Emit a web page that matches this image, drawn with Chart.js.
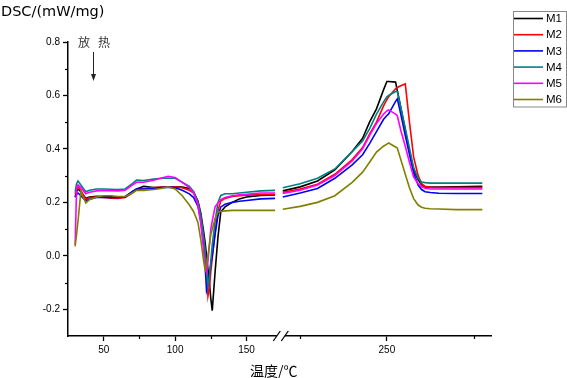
<!DOCTYPE html>
<html>
<head>
<meta charset="utf-8">
<script src="https://cdn.jsdelivr.net/npm/chart.js@4/dist/chart.umd.min.js"></script>
<style>
  body { margin: 0; background: #fff; }
  canvas { display: block; }
</style>
</head>
<body>
<canvas id="dscChart" width="567" height="378"></canvas>
<script>
// temperatures (°C) of the two parts of the broken axis
var seg1T = [30, 31, 32, 34, 37.5, 40, 45, 50, 55, 60, 65, 70, 73, 78, 85, 90, 95, 100, 105, 110, 113, 116, 118, 120, 121, 122, 123, 124, 125, 126, 128, 130, 132, 135, 140, 145, 150, 160, 170];
var seg2T = [190, 200, 210, 220, 230, 236, 240, 244, 248, 250, 251, 255, 256, 258, 260.6, 263, 265.4, 268, 270, 272, 275, 280, 290, 305];

var seriesNames = ["M1", "M2", "M3", "M4", "M5", "M6"];
var seriesColors = ["#000000", "#ff0000", "#0000ff", "#008080", "#ff00ff", "#808000"];

// DSC (mW/mg), first part
var m1Low = [0.22, 0.24, 0.25, 0.24, 0.215, 0.22, 0.223, 0.222, 0.221, 0.22, 0.222, 0.24, 0.25, 0.26, 0.255, 0.255, 0.258, 0.258, 0.257, 0.252, 0.238, 0.205, 0.16, 0.09, 0.05, 0.0, -0.05, -0.1, -0.16, -0.205, -0.06, 0.07, 0.165, 0.183, 0.2, 0.213, 0.22, 0.226, 0.228];
var m2Low = [0.23, 0.25, 0.26, 0.245, 0.21, 0.218, 0.22, 0.218, 0.216, 0.215, 0.218, 0.235, 0.248, 0.252, 0.255, 0.257, 0.258, 0.258, 0.255, 0.245, 0.235, 0.2, 0.14, 0.06, 0.01, -0.05, -0.15, -0.12, -0.06, -0.01, 0.09, 0.17, 0.205, 0.215, 0.222, 0.225, 0.227, 0.229, 0.23];
var m3Low = [0.22, 0.23, 0.235, 0.225, 0.205, 0.212, 0.218, 0.218, 0.218, 0.218, 0.22, 0.24, 0.25, 0.25, 0.252, 0.255, 0.257, 0.255, 0.245, 0.232, 0.218, 0.185, 0.13, 0.04, -0.03, -0.13, -0.11, -0.07, -0.03, 0.0, 0.08, 0.15, 0.183, 0.193, 0.2, 0.204, 0.207, 0.213, 0.215];
var m4Low = [0.24, 0.27, 0.28, 0.265, 0.24, 0.245, 0.25, 0.25, 0.249, 0.248, 0.25, 0.27, 0.283, 0.282, 0.287, 0.29, 0.29, 0.29, 0.275, 0.26, 0.24, 0.2, 0.15, 0.07, 0.02, -0.05, -0.115, -0.08, -0.02, 0.04, 0.13, 0.2, 0.226, 0.232, 0.232, 0.235, 0.238, 0.243, 0.245];
var m5Low = [0.04, 0.25, 0.265, 0.255, 0.232, 0.238, 0.243, 0.245, 0.244, 0.243, 0.245, 0.265, 0.275, 0.275, 0.283, 0.29, 0.297, 0.293, 0.275, 0.255, 0.235, 0.19, 0.12, 0.02, -0.04, -0.06, -0.02, 0.04, 0.1, 0.13, 0.183, 0.198, 0.21, 0.218, 0.225, 0.228, 0.23, 0.235, 0.235];
var m6Low = [0.035, 0.08, 0.13, 0.24, 0.198, 0.21, 0.22, 0.225, 0.225, 0.222, 0.222, 0.235, 0.245, 0.245, 0.248, 0.252, 0.258, 0.25, 0.225, 0.19, 0.165, 0.125, 0.06, -0.02, -0.053, -0.03, 0.0, 0.04, 0.08, 0.1, 0.14, 0.164, 0.166, 0.168, 0.17, 0.17, 0.17, 0.17, 0.17];

// DSC (mW/mg), second part
var m1High = [0.243, 0.258, 0.28, 0.322, 0.39, 0.44, 0.5, 0.55, 0.62, 0.652, 0.652, 0.65, 0.618, 0.555, 0.47, 0.39, 0.32, 0.285, 0.265, 0.258, 0.257, 0.257, 0.258, 0.26];
var m2High = [0.238, 0.25, 0.268, 0.305, 0.36, 0.405, 0.455, 0.5, 0.56, 0.585, 0.595, 0.625, 0.63, 0.636, 0.643, 0.5, 0.37, 0.3, 0.27, 0.26, 0.256, 0.255, 0.255, 0.255];
var m3High = [0.22, 0.235, 0.252, 0.29, 0.34, 0.378, 0.42, 0.465, 0.51, 0.525, 0.531, 0.578, 0.587, 0.53, 0.45, 0.38, 0.31, 0.265, 0.248, 0.24, 0.237, 0.234, 0.233, 0.233];
var m4High = [0.255, 0.27, 0.29, 0.325, 0.39, 0.43, 0.475, 0.53, 0.575, 0.595, 0.6, 0.615, 0.615, 0.556, 0.478, 0.403, 0.33, 0.29, 0.276, 0.274, 0.272, 0.272, 0.272, 0.272];
var m5High = [0.233, 0.245, 0.265, 0.3, 0.355, 0.4, 0.45, 0.495, 0.53, 0.542, 0.546, 0.53, 0.524, 0.47, 0.41, 0.35, 0.295, 0.27, 0.258, 0.253, 0.25, 0.25, 0.25, 0.25];
var m6High = [0.174, 0.185, 0.2, 0.225, 0.275, 0.313, 0.35, 0.388, 0.41, 0.418, 0.422, 0.407, 0.403, 0.36, 0.305, 0.255, 0.214, 0.19, 0.182, 0.178, 0.176, 0.175, 0.173, 0.173];

var lowSeries = [m1Low, m2Low, m3Low, m4Low, m5Low, m6Low];
var highSeries = [m1High, m2High, m3High, m4High, m5High, m6High];

// tick labels
var xMajor = [50, 100, 150, 250];
var xMinor = [75, 125, 200, 300];
var yMajor = [-0.2, 0.0, 0.2, 0.4, 0.6, 0.8];
var yMajorLabels = ["-0.2", "0.0", "0.2", "0.4", "0.6", "0.8"];
var yMinor = [-0.1, 0.1, 0.3, 0.5, 0.7];

// broken axis: the right part is drawn on a stretched scale
var BREAK_AT = 174;
function brk(t) {
  if (t <= BREAK_AT) return t;
  return 248.3 + (t - 250) * 1.215;
}

function montarPontos(low, high) {
  var pts = [];
  for (var i = 0; i < seg1T.length; i++) pts.push({ x: brk(seg1T[i]), y: low[i] });
  pts.push({ x: BREAK_AT, y: null });
  for (var j = 0; j < seg2T.length; j++) pts.push({ x: brk(seg2T[j]), y: high[j] });
  return pts;
}

var datasets = [];
for (var k = 0; k < seriesNames.length; k++) {
  datasets.push({
    label: seriesNames[k],
    data: montarPontos(lowSeries[k], highSeries[k]),
    borderColor: seriesColors[k],
    backgroundColor: seriesColors[k],
    borderWidth: 1.6,
    pointRadius: 0,
    tension: 0,
    spanGaps: false,
    order: seriesNames.length - k,
  });
}

var decor = {
  id: "decor",
  afterDraw: function (chart) {
    var ctx = chart.ctx;
    var xs = chart.scales.x;
    var ys = chart.scales.y;
    var area = chart.chartArea;

    ctx.save();
    ctx.strokeStyle = "#000";
    ctx.lineWidth = 1.2;

    // minor ticks
    xMinor.forEach(function (t) {
      var px = Math.round(xs.getPixelForValue(brk(t))) + 0.5;
      ctx.beginPath();
      ctx.moveTo(px, area.bottom);
      ctx.lineTo(px, area.bottom + 3);
      ctx.stroke();
    });
    yMinor.forEach(function (v) {
      var py = Math.round(ys.getPixelForValue(v)) + 0.5;
      ctx.beginPath();
      ctx.moveTo(area.left, py);
      ctx.lineTo(area.left - 3, py);
      ctx.stroke();
    });

    // axis break //
    var bx = xs.getPixelForValue(BREAK_AT);
    var by = area.bottom;
    ctx.fillStyle = "#fff";
    ctx.fillRect(bx - 4, by - 2, 8, 4);
    ctx.lineWidth = 1.3;
    [-4, 4].forEach(function (off) {
      ctx.beginPath();
      ctx.moveTo(bx + off - 3.5, by + 5);
      ctx.lineTo(bx + off + 3.5, by - 5);
      ctx.stroke();
    });

    // titles
    ctx.fillStyle = "#000";
    ctx.textBaseline = "alphabetic";
    ctx.textAlign = "left";
    ctx.font = "14.5px 'DejaVu Sans'";
    ctx.fillText("DSC/(mW/mg)", 1, 16);

    ctx.font = "14px 'Noto Sans CJK SC'";
    ctx.fillText("温度/℃", 250, 376);

    ctx.fillStyle = "#333";
    ctx.font = "12px 'Noto Sans CJK SC'";
    ctx.fillText("放", 78, 47);
    ctx.fillText("热", 98, 47);

    // arrow
    ctx.strokeStyle = "#222";
    ctx.lineWidth = 1;
    ctx.beginPath();
    ctx.moveTo(93.5, 52);
    ctx.lineTo(93.5, 76);
    ctx.stroke();
    ctx.fillStyle = "#222";
    ctx.beginPath();
    ctx.moveTo(91, 74);
    ctx.lineTo(96, 74);
    ctx.lineTo(93.5, 81);
    ctx.closePath();
    ctx.fill();

    // legend
    ctx.strokeStyle = "#888";
    ctx.lineWidth = 1;
    ctx.strokeRect(513.5, 11.5, 53, 95.5);
    ctx.font = "11.5px 'Liberation Sans'";
    ctx.textBaseline = "middle";
    chart.data.datasets.forEach(function (ds, i) {
      var ly = 18.5 + i * 16.2;
      ctx.strokeStyle = ds.borderColor;
      ctx.lineWidth = 1.6;
      ctx.beginPath();
      ctx.moveTo(514, ly);
      ctx.lineTo(543, ly);
      ctx.stroke();
      ctx.fillStyle = "#000";
      ctx.fillText(ds.label, 546, ly + 0.5);
    });
    ctx.restore();
  },
};

var chartDsc = new Chart(document.getElementById("dscChart"), {
  type: "line",
  data: { datasets: datasets },
  options: {
    responsive: false,
    animation: false,
    layout: { padding: { top: 42, right: 76, left: 0, bottom: 0 } },
    plugins: {
      legend: { display: false },
      tooltip: { enabled: false },
    },
    scales: {
      x: {
        type: "linear",
        min: 25,
        max: 321.2,
        afterBuildTicks: function (scale) {
          scale.ticks = xMajor.map(function (t) {
            return { value: brk(t) };
          });
        },
        afterFit: function (scale) {
          scale.height = 42;
        },
        ticks: {
          autoSkip: false,
          maxRotation: 0,
          padding: 3,
          color: "#000",
          font: { family: "Liberation Sans", size: 10 },
          callback: function (value, index) {
            return String(xMajor[index]);
          },
        },
        grid: {
          drawOnChartArea: false,
          tickLength: 5,
          tickColor: "#000",
          tickWidth: 1.3,
        },
        border: { color: "#000", width: 1.5 },
      },
      y: {
        min: -0.3,
        max: 0.8,
        afterBuildTicks: function (scale) {
          scale.ticks = yMajor.map(function (v) {
            return { value: v };
          });
        },
        afterFit: function (scale) {
          scale.width = 68;
        },
        ticks: {
          padding: 3,
          color: "#000",
          font: { family: "Liberation Sans", size: 10 },
          callback: function (value, index) {
            return yMajorLabels[index];
          },
        },
        grid: {
          drawOnChartArea: false,
          tickLength: 5,
          tickColor: "#000",
          tickWidth: 1.3,
        },
        border: { color: "#000", width: 1.5 },
      },
    },
  },
  plugins: [decor],
});
</script>
</body>
</html>
